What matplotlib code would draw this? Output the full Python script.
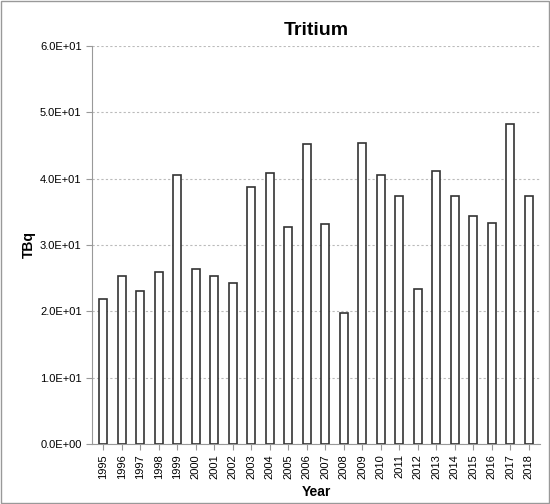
import matplotlib
matplotlib.use("Agg")
import matplotlib.pyplot as plt
from matplotlib.ticker import FuncFormatter
from matplotlib.patches import Rectangle

years = [str(y) for y in range(1995, 2019)]
values = [21.8, 25.4, 23.1, 25.9, 40.6, 26.4, 25.4, 24.3, 38.7, 40.8, 32.7, 45.2,
          33.1, 19.8, 45.4, 40.5, 37.4, 23.4, 41.1, 37.4, 34.4, 33.3, 48.3, 37.4]

plt.rcParams['font.family'] = ['Liberation Sans', 'DejaVu Sans']
fig = plt.figure(figsize=(5.5, 5.04), dpi=100)
ax = fig.add_axes([92/550, 1-444/504, 448/550, 398/504])
x = range(len(years))
ax.bar(x, values, width=0.42, color='white', edgecolor='#333333', linewidth=1.2, zorder=3)
ax.set_xlim(-0.6, len(years)-0.4)
ax.set_ylim(0, 60)
ax.set_yticks(range(0, 61, 10))
ax.yaxis.set_major_formatter(FuncFormatter(lambda v, p: f"{v:.1E}"))
ax.set_xticks(list(x))
ax.set_xticklabels(years, rotation=90, fontsize=8)
ax.tick_params(axis='y', labelsize=8, length=4, color='#999999')
ax.tick_params(axis='x', length=4, color='#999999')
ax.grid(axis='y', linestyle=(0, (2, 2)), color='#bbbbbb', linewidth=0.8, zorder=0)
for s in ['top', 'right']:
    ax.spines[s].set_visible(False)
for s in ['left', 'bottom']:
    ax.spines[s].set_color('#999999')
ax.set_title('Tritium', fontsize=14, fontweight='bold', pad=8)
ax.set_ylabel('TBq', fontsize=10, fontweight='bold', labelpad=3)
ax.set_xlabel('Year', fontsize=10, fontweight='bold', labelpad=4)
fig.patches.append(Rectangle((0.002, 0.002), 0.996, 0.996, transform=fig.transFigure,
                             fill=False, edgecolor='#999999', linewidth=1))
fig.savefig('out.png', dpi=100)
